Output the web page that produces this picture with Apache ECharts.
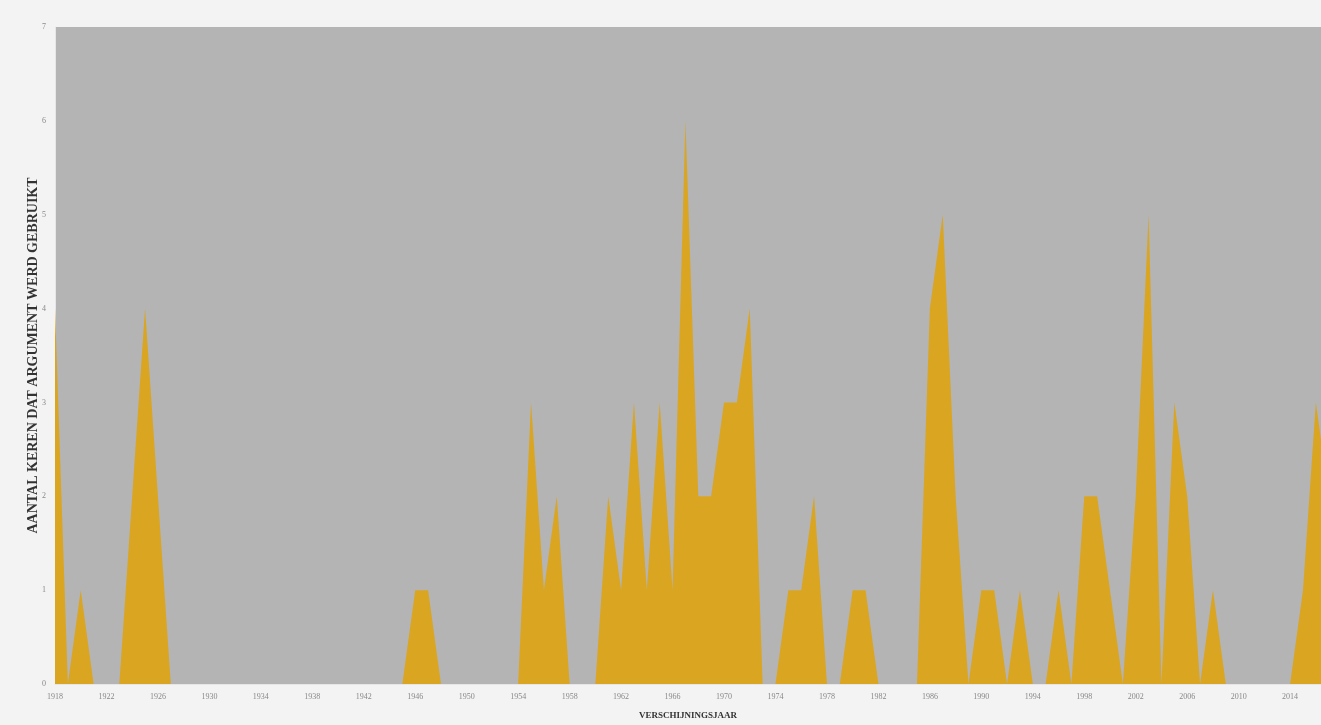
<!DOCTYPE html>
<html>
<head>
<meta charset="utf-8">
<script src="https://cdn.jsdelivr.net/npm/echarts@6/dist/echarts.min.js"></script>
<style>
  html, body { margin: 0; padding: 0; background: #f3f3f3; }
  #chart { width: 1321px; height: 725px; }
</style>
</head>
<body>
<div id="chart"></div>
<script>
// Years of appearance (x values)
const years = [
  1918,1919,1920,1921,1922,1923,1924,1925,1926,1927,
  1928,1929,1930,1931,1932,1933,1934,1935,1936,1937,
  1938,1939,1940,1941,1942,1943,1944,1945,1946,1947,
  1948,1949,1950,1951,1952,1953,1954,1955,1956,1957,
  1958,1959,1960,1961,1962,1963,1964,1965,1966,1967,
  1968,1969,1970,1971,1972,1973,1974,1975,1976,1977,
  1978,1979,1980,1981,1982,1983,1984,1985,1986,1987,
  1988,1989,1990,1991,1992,1993,1994,1995,1996,1997,
  1998,1999,2000,2001,2002,2003,2004,2005,2006,2007,
  2008,2009,2010,2011,2012,2013,2014,2015,2016,2017
];
// Number of times the argument was used
const counts = [
  4,0,1,0,0,0,2,4,2,0,
  0,0,0,0,0,0,0,0,0,0,
  0,0,0,0,0,0,0,0,1,1,
  0,0,0,0,0,0,0,3,1,2,
  0,0,0,2,1,3,1,3,1,6,
  2,2,3,3,4,0,0,1,1,2,
  0,0,1,1,0,0,0,0,4,5,
  2,0,1,1,0,1,0,0,1,0,
  2,2,1,0,2,5,0,3,2,0,
  1,0,0,0,0,0,0,1,3,2
];
const yTicks = [0,1,2,3,4,5,6,7];
const xAxisTitle = 'VERSCHIJNINGSJAAR';
const yAxisTitle = 'AANTAL KEREN DAT ARGUMENT WERD GEBRUIKT';

const seriesData = years.map((y, i) => [y, counts[i]]);

const chart = echarts.init(document.getElementById('chart'), null, { renderer: 'canvas' });
chart.setOption({
  backgroundColor: '#f3f3f3',
  animation: false,
  grid: {
    left: 55, right: 0, top: 27, bottom: 33,
    show: true, backgroundColor: '#b4b4b4', borderWidth: 0
  },
  xAxis: {
    type: 'value',
    min: 1918, max: 2016.4, interval: 4,
    name: xAxisTitle,
    nameLocation: 'middle',
    nameGap: 27,
    nameMoveOverlap: false,
    nameTextStyle: { fontFamily: 'Liberation Serif', fontSize: 9, fontWeight: 'bold', color: '#333' },
    axisLine: { show: true, lineStyle: { color: '#e6e6e6', width: 1 } },
    axisTick: { show: false },
    splitLine: { show: false },
    axisLabel: {
      showMaxLabel: false,
      margin: 9,
      fontFamily: 'Liberation Serif', fontSize: 8, color: '#888',
      formatter: v => String(v)
    }
  },
  yAxis: {
    type: 'value',
    min: yTicks[0], max: yTicks[yTicks.length - 1], interval: 1,
    name: yAxisTitle,
    nameLocation: 'middle',
    nameGap: 15,
    nameMoveOverlap: false,
    nameTextStyle: { fontFamily: 'Liberation Serif', fontSize: 14, fontWeight: 'bold', color: '#333' },
    axisLine: { show: true, lineStyle: { color: '#e6e6e6', width: 1 } },
    axisTick: { show: false },
    splitLine: { show: false },
    axisLabel: {
      margin: 9,
      fontFamily: 'Liberation Serif', fontSize: 8, color: '#888',
      formatter: v => String(v)
    }
  },
  series: [{
    type: 'line',
    data: seriesData,
    symbol: 'none',
    smooth: false,
    clip: true,
    lineStyle: { width: 0, color: '#daa520' },
    areaStyle: { color: '#daa520', opacity: 1 },
    itemStyle: { color: '#daa520' }
  }]
});
</script>
</body>
</html>
